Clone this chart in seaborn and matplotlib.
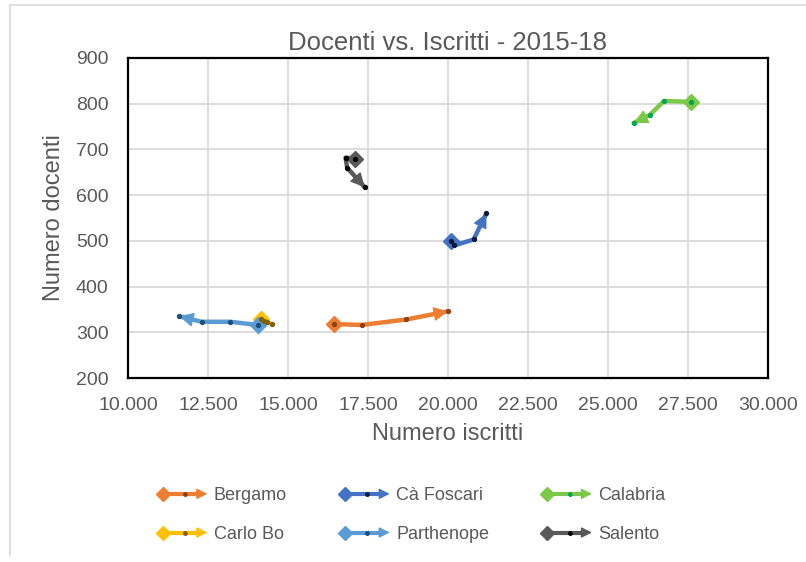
import matplotlib
matplotlib.use("Agg")
import matplotlib.pyplot as plt
import pandas as pd
import seaborn as sns
from matplotlib.lines import Line2D
from matplotlib.patches import FancyArrowPatch
from matplotlib.legend_handler import HandlerBase
from matplotlib.ticker import FuncFormatter

# Data: one point per year 2015..2018
atenei = ['Bergamo', 'Cà Foscari', 'Calabria', 'Carlo Bo', 'Parthenope', 'Salento']
anni = [2015, 2016, 2017, 2018]

iscritti_bergamo = [16450, 17300, 18700, 20000]
docenti_bergamo = [318, 316, 328, 346]

iscritti_foscari = [20100, 20200, 20800, 21200]
docenti_foscari = [500, 490, 503, 560]

iscritti_calabria = [27600, 26750, 26300, 25800]
docenti_calabria = [804, 806, 775, 758]

iscritti_carlobo = [14150, 14250, 14350, 14500]
docenti_carlobo = [328, 325, 322, 318]

iscritti_parthenope = [14050, 13200, 12300, 11600]
docenti_parthenope = [316, 323, 323, 335]

iscritti_salento = [17100, 16800, 16850, 17400]
docenti_salento = [680, 682, 660, 617]

colori = ['#ED7D31', '#4472C4', '#7CC94A', '#FFC000', '#5B9BD5', '#595959']
colori_punti = ['#8A4214', '#0B1A3A', '#00A650', '#7F6000', '#1F4E79', '#000000']

iscritti = [iscritti_bergamo, iscritti_foscari, iscritti_calabria,
            iscritti_carlobo, iscritti_parthenope, iscritti_salento]
docenti = [docenti_bergamo, docenti_foscari, docenti_calabria,
           docenti_carlobo, docenti_parthenope, docenti_salento]

# Build long dataframe
rows = []
for nome, xs, ys in zip(atenei, iscritti, docenti):
    for anno, xv, yv in zip(anni, xs, ys):
        rows.append({'ateneo': nome, 'anno': anno, 'iscritti': xv, 'docenti': yv})
df = pd.DataFrame(rows)

sns.set_theme(style="white")
plt.rcParams['font.family'] = ['Liberation Sans', 'DejaVu Sans']
grigio = '#595959'


# Legend handle: diamond at start, dot in the middle, arrow at the end
class ArrowHandler(HandlerBase):
    def create_artists(self, legend, orig_handle, xdescent, ydescent,
                       width, height, fontsize, trans):
        col = orig_handle.get_color()
        dotc = orig_handle.get_markerfacecolor()
        y = height / 2 - ydescent
        x0 = -xdescent + 3
        x1 = -xdescent + width
        line = Line2D([x0, x1 - 8], [y, y], color=col, lw=3)
        dia = Line2D([x0], [y], marker='D', ms=7, color=col, lw=0)
        dot = Line2D([(x0 + x1) / 2], [y], marker='o', ms=2.5, color=dotc, lw=0)
        arr = FancyArrowPatch((x1 - 14, y), (x1, y), arrowstyle='-|>',
                              mutation_scale=16, color=col, lw=1.0,
                              shrinkA=0, shrinkB=0)
        artists = [line, dia, dot, arr]
        for a in artists:
            a.set_transform(trans)
        return artists


fig = plt.figure(figsize=(8.06, 5.62), dpi=100)
ax = fig.add_axes([0.1588, 0.3274, 0.794, 0.5694])

palette = dict(zip(atenei, colori))
sns.lineplot(data=df, x='iscritti', y='docenti', hue='ateneo', palette=palette,
             sort=False, estimator=None, lw=3.2, legend=False, ax=ax, zorder=3)

for nome, xs, ys, col, dc in zip(atenei, iscritti, docenti, colori, colori_punti):
    # diamond at start
    ax.plot(xs[0], ys[0], 'D', ms=8, color=col, zorder=4)
    # arrow at end
    ax.annotate('', xy=(xs[-1], ys[-1]), xytext=(xs[-2], ys[-2]),
                arrowprops=dict(arrowstyle='-|>', color=col, lw=1.0,
                                mutation_scale=22, shrinkA=0, shrinkB=0),
                zorder=4)
    # small dots on every year
    ax.plot(xs, ys, 'o', ms=2.8, color=dc, zorder=5)

ax.set_xlim(10000, 30000)
ax.set_ylim(200, 900)
ax.set_xticks(range(10000, 30001, 2500))
ax.set_yticks(range(200, 901, 100))
ax.xaxis.set_major_formatter(FuncFormatter(lambda v, p: f'{int(v):,}'.replace(',', '.')))
ax.grid(True, color='#D9D9D9', lw=1.3)
ax.set_axisbelow(True)
for s in ax.spines.values():
    s.set_color('black')
    s.set_linewidth(1.6)
ax.tick_params(axis='both', length=0, labelsize=14, labelcolor=grigio)
ax.tick_params(axis='x', pad=14)
ax.tick_params(axis='y', pad=14)

ax.set_xlabel('Numero iscritti', fontsize=17, color=grigio, labelpad=6)
ax.set_ylabel('Numero docenti', fontsize=17, color=grigio, labelpad=8)
ax.set_title('Docenti vs. Iscritti - 2015-18', fontsize=18.5, color=grigio, pad=6)

# legend fills column by column, so reorder to read row by row
ordine = [0, 3, 1, 4, 2, 5]
handles = [Line2D([], [], color=colori[i], markerfacecolor=colori_punti[i]) for i in ordine]
labels = [atenei[i] for i in ordine]
leg = fig.legend(handles, labels, handler_map={Line2D: ArrowHandler()},
                 loc='center', bbox_to_anchor=(412 / 806, 1 - 515 / 562), ncol=3,
                 frameon=False, fontsize=13, handlelength=2.7, handletextpad=0.35,
                 columnspacing=3.0, labelspacing=1.2)
for t in leg.get_texts():
    t.set_color(grigio)

# Excel chart area border (left and top edges only are visible)
bordo = '#D9D9D9'
fig.add_artist(Line2D([10 / 806, 10 / 806], [1 - 5 / 562, 1 - 556 / 562],
                      transform=fig.transFigure, color=bordo, lw=1.2))
fig.add_artist(Line2D([10 / 806, 1.0], [1 - 5 / 562, 1 - 5 / 562],
                      transform=fig.transFigure, color=bordo, lw=1.2))

fig.savefig('out.png', dpi=100)
